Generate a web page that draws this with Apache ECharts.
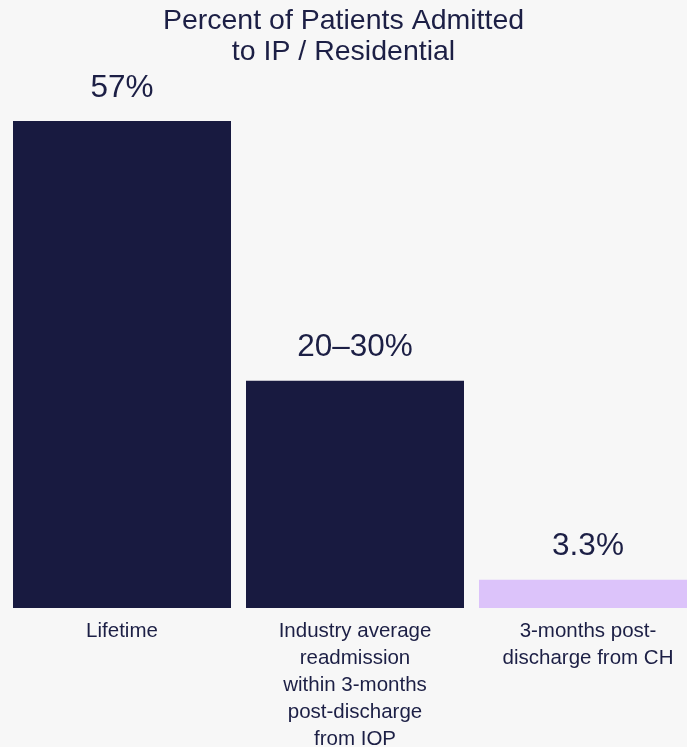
<!DOCTYPE html>
<html>
<head>
<meta charset="utf-8">
<script src="https://cdn.jsdelivr.net/npm/echarts@6/dist/echarts.min.js"></script>
<style>
  html, body { margin: 0; padding: 0; background: #f7f7f7; }
  #chart { width: 687px; height: 747px; }
</style>
</head>
<body>
<div id="chart"></div>
<script>
// Share of patients admitted to inpatient / residential care
const categories = [
  'Lifetime',
  'Industry average\nreadmission\nwithin 3-months\npost-discharge\nfrom IOP',
  '3-months post-\ndischarge from CH'
];
const values = [57, 26.6, 3.3];
const valueLabels = ['57%', '20–30%', '3.3%'];
const barColors = ['#181a40', '#181a40', '#dcc3fa'];

const textColor = '#1c1f45';
const fontFamily = '"Liberation Sans", Arial, Helvetica, sans-serif';

const chart = echarts.init(document.getElementById('chart'), null, { renderer: 'canvas' });

chart.setOption({
  backgroundColor: '#f7f7f7',
  animation: false,
  title: {
    text: 'Percent of Patients Admitted\nto IP / Residential',
    left: 'center',
    top: 1,
    textStyle: {
      color: textColor,
      fontFamily: fontFamily,
      fontWeight: 'normal',
      fontSize: 28.5,
      lineHeight: 31
    }
  },
  grid: {
    left: 5.5,
    top: 121,
    width: 699,
    bottom: 139,
    containLabel: false,
    outerBoundsMode: 'none'
  },
  xAxis: {
    type: 'category',
    data: categories,
    axisLine: { show: false },
    axisTick: { show: false },
    axisLabel: {
      color: textColor,
      fontFamily: fontFamily,
      fontSize: 20.5,
      lineHeight: 27,
      margin: 10,
      interval: 0,
      align: 'center'
    }
  },
  yAxis: {
    type: 'value',
    min: 0,
    max: 57,
    show: false,
    splitLine: { show: false }
  },
  series: [{
    type: 'bar',
    data: values.map((v, i) => ({ value: v, itemStyle: { color: barColors[i] } })),
    barWidth: 218,
    label: {
      show: true,
      position: 'top',
      distance: 17,
      color: textColor,
      fontFamily: fontFamily,
      fontSize: 31.5,
      formatter: (p) => valueLabels[p.dataIndex]
    }
  }]
});
</script>
</body>
</html>
